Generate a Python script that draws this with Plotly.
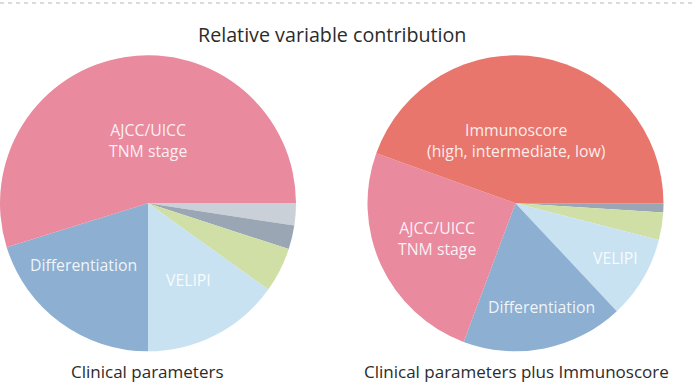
import plotly.graph_objects as go

W, H = 696, 385

# Slices listed counterclockwise starting at 3 o'clock
left_categories = ["AJCC/UICC TNM stage", "Differentiation", "VELIPI", "Other 1", "Other 2", "Other 3"]
left_values = [54.8, 20.2, 15.1, 4.9, 2.6, 2.4]

right_categories = ["Immunoscore", "AJCC/UICC TNM stage", "Differentiation", "VELIPI", "Other 1", "Other 2"]
right_values = [44.5, 24.8, 17.7, 9.0, 3.0, 1.0]

left_colors = ["#e98a9f", "#8cafd2", "#c8e2f2", "#cfdfa5", "#9aa6b3", "#c9d0d8"]
right_colors = ["#e8766d", "#e98a9f", "#8cafd2", "#c8e2f2", "#cfdfa5", "#9aa6b3"]

title_text = "Relative variable contribution"
left_caption = "Clinical parameters"
right_caption = "Clinical parameters plus Immunoscore"

FONT = "Open Sans"

def px_x(x):
    return x / W

def px_y(y):
    return 1 - y / H

fig = go.Figure()
# draw clockwise from 3 o'clock with reversed order == counterclockwise in given order
fig.add_trace(go.Pie(
    labels=left_categories[::-1], values=left_values[::-1], sort=False,
    direction="clockwise", rotation=90,
    marker=dict(colors=left_colors[::-1], line=dict(width=0)),
    textinfo="none", hoverinfo="label+percent", showlegend=False,
    domain=dict(x=[px_x(0), px_x(296)], y=[px_y(351.3), px_y(55.3)]),
))
fig.add_trace(go.Pie(
    labels=right_categories[::-1], values=right_values[::-1], sort=False,
    direction="clockwise", rotation=90,
    marker=dict(colors=right_colors[::-1], line=dict(width=0)),
    textinfo="none", hoverinfo="label+percent", showlegend=False,
    domain=dict(x=[px_x(367.5), px_x(663.5)], y=[px_y(351.3), px_y(55.3)]),
))

slice_font = dict(family=FONT, size=15.8, color="rgba(255,255,255,0.88)")
labels = [
    ("AJCC/UICC<br>TNM stage", 147.5, 140.5),
    ("Differentiation", 83.3, 265),
    ("VELIPI", 188.7, 280),
    ("Immunoscore<br>(high, intermediate, low)", 516.7, 140),
    ("AJCC/UICC<br>TNM stage", 436.7, 238.3),
    ("Differentiation", 541.7, 306.7),
    ("VELIPI", 615, 258.3),
]
annotations = []
for txt, x, y in labels:
    annotations.append(dict(text=txt, x=px_x(x), y=px_y(y), xref="paper", yref="paper",
                            xanchor="center", yanchor="middle", showarrow=False,
                            font=slice_font))
annotations.append(dict(text=title_text, x=px_x(332), y=px_y(34), xref="paper", yref="paper",
                        xanchor="center", yanchor="middle", showarrow=False,
                        font=dict(family=FONT, size=19.7, color="#2b2b2b")))
annotations.append(dict(text=left_caption, x=px_x(147.5), y=px_y(371.5), xref="paper", yref="paper",
                        xanchor="center", yanchor="middle", showarrow=False,
                        font=dict(family=FONT, size=17, color="#2b2b2b")))
annotations.append(dict(text=right_caption, x=px_x(516.7), y=px_y(371.5), xref="paper", yref="paper",
                        xanchor="center", yanchor="middle", showarrow=False,
                        font=dict(family=FONT, size=17, color="#2b2b2b")))

fig.update_layout(
    width=W, height=H,
    margin=dict(l=0, r=0, t=0, b=0),
    paper_bgcolor="white", plot_bgcolor="white",
    annotations=annotations,
    shapes=[dict(type="line", xref="paper", yref="paper", x0=0, x1=1, y0=px_y(3), y1=px_y(3),
                 line=dict(color="#cfcfcf", width=1.5, dash="4px,4px"))],
)

fig.write_html("out.html", config={"displayModeBar": False},
               post_script="document.body.style.margin='0px';")
